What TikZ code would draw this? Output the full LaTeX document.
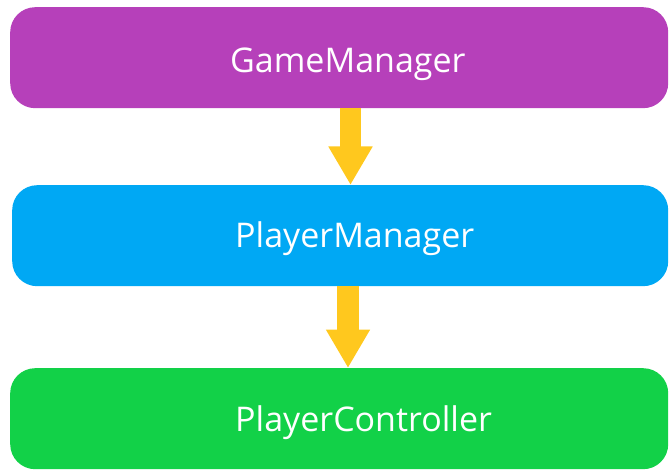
\documentclass[tikz,border=0pt]{standalone}
\usepackage{fontspec}
\setmainfont{Open Sans}
\usetikzlibrary{arrows.meta}
\definecolor{gmpurple}{HTML}{B640BA}
\definecolor{pmblue}{HTML}{00A8F4}
\definecolor{pcgreen}{HTML}{12D148}
\definecolor{flowyellow}{HTML}{FFC81E}
\tikzset{box/.style={rounded corners=25pt,inner sep=0pt,anchor=north west,minimum width=658pt,minimum height=101pt}}
\tikzset{lbl/.style={text=white,inner sep=0pt,anchor=base west,font=\fontsize{34}{40}\selectfont}}
\tikzset{flow/.style={draw=flowyellow,line width=21.5pt,-{Triangle[width=41.5pt,length=38.5pt]}}}

\begin{document}
\begin{tikzpicture}[x=1pt,y=-1pt]
	\useasboundingbox (0,0) rectangle (669,470);
	% the three layers
	\node (gm) [box,fill=gmpurple] at (10,7) {};
	\node (pm) [box,fill=pmblue,minimum width=656pt] at (12,185) {};
	\node (pc) [box,fill=pcgreen] at (10,368) {};
	\node (gmlbl) [lbl] at (230,73) {GameManager};
	\node (pmlbl) [lbl] at (235,248) {PlayerManager};
	\node (pclbl) [lbl] at (235,431) {PlayerController};
	% block arrows between them
	\coordinate (a1) at (350.5,0);
	\coordinate (a2) at (348,0);
	\draw[flow] (gm.south -| a1) -- (pm.north -| a1);
	\draw[flow] (pm.south -| a2) -- (pc.north -| a2);
\end{tikzpicture}
\end{document}
